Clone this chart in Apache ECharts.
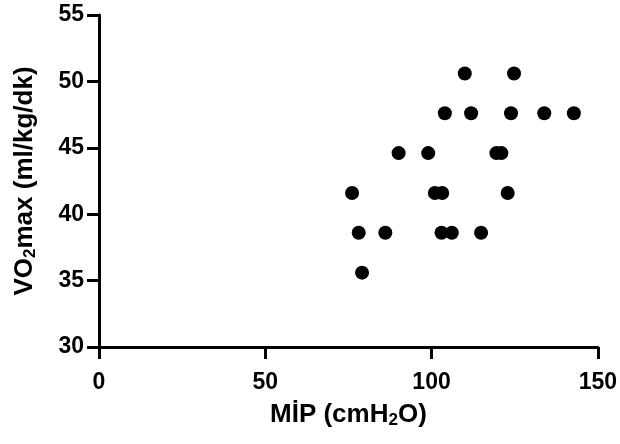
<!DOCTYPE html>
<html><head><meta charset="utf-8">
<script src="https://cdn.jsdelivr.net/npm/echarts@6/dist/echarts.min.js"></script>
<style>html,body{margin:0;padding:0;background:#fff}#c{width:620px;height:444px}</style>
</head><body><div id="c"></div>
<script>
const mipValues = [110.0, 124.8, 104.0, 111.9, 123.9, 133.9, 142.8, 90.1, 99.0, 119.5, 121.0, 76.1, 101.0, 103.2, 122.9, 78.1, 86.1, 103.0, 106.1, 114.9, 79.1];
const vo2Values = [50.6, 50.6, 47.6, 47.6, 47.6, 47.6, 47.6, 44.6, 44.6, 44.6, 44.6, 41.6, 41.6, 41.6, 41.6, 38.6, 38.6, 38.6, 38.6, 38.6, 35.6];
const xTicks = [0, 50, 100, 150];
const yTicks = [30, 35, 40, 45, 50, 55];

const data = mipValues.map((x, i) => [x, vo2Values[i]]);
const font = 'Liberation Sans, Arial, sans-serif';
const chart = echarts.init(document.getElementById('c'));
const nameRich = {
  n: { fontSize: 26, fontWeight: 'bold', fontFamily: font, color: '#000' },
  s: { fontSize: 17, fontWeight: 'bold', fontFamily: font, color: '#000', verticalAlign: 'bottom', padding: [11, 0, 0, 0] }
};
chart.setOption({
  animation: false,
  grid: { left: 99, right: 22, top: 15, bottom: 97, containLabel: false },
  xAxis: {
    type: 'value', min: xTicks[0], max: xTicks[xTicks.length - 1], interval: 50,
    axisLine: { show: true, onZero: false, lineStyle: { color: '#000', width: 3 } },
    axisTick: { show: true, length: 12, lineStyle: { color: '#000', width: 3 } },
    splitLine: { show: false },
    axisLabel: { margin: 24, color: '#000', fontSize: 23, fontWeight: 'bold', fontFamily: font },
    name: '{n|MİP (cmH}{s|2}{n|O)}',
    nameLocation: 'middle', nameGap: 54,
    nameTextStyle: { rich: nameRich }
  },
  yAxis: {
    type: 'value', min: yTicks[0], max: yTicks[yTicks.length - 1], interval: 5,
    axisLine: { show: true, onZero: false, lineStyle: { color: '#000', width: 3 } },
    axisTick: { show: true, length: 12, lineStyle: { color: '#000', width: 3 } },
    splitLine: { show: false },
    axisLabel: { margin: 15, color: '#000', fontSize: 23, fontWeight: 'bold', fontFamily: font },
    name: '{n|VO}{s|2}{n|max (ml/kg/dk)}',
    nameLocation: 'middle', nameGap: 60, nameRotate: 90,
    nameTextStyle: { rich: nameRich }
  },
  series: [{
    type: 'scatter', data: data, symbol: 'circle', symbolSize: 14,
    itemStyle: { color: '#000', opacity: 1 }
  }]
});
</script></body></html>
